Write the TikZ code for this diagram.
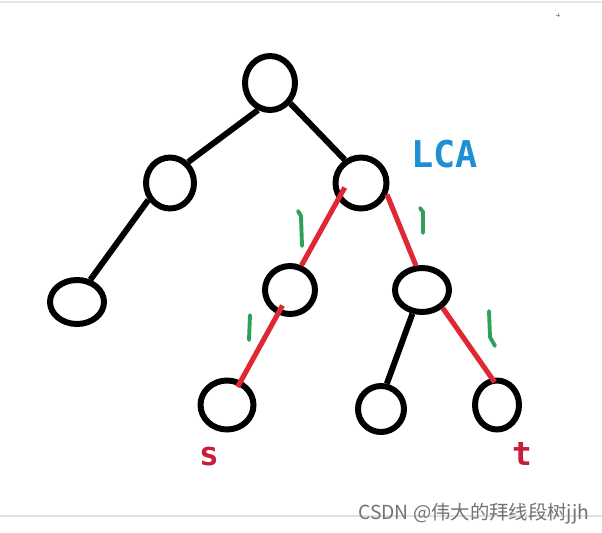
\documentclass[tikz,border=0pt]{standalone}
\usepackage{fontspec}
\usepackage{xcolor}
\usepackage{tikz}
\usetikzlibrary{shapes.geometric}
\newfontfamily\lblfont{DejaVu Sans Mono}
\newfontfamily\cjk{Noto Sans CJK SC}
\definecolor{lcablue}{RGB}{30,144,210}
\definecolor{pathred}{RGB}{222,40,52}
\definecolor{textred}{RGB}{200,30,60}
\definecolor{markgreen}{RGB}{45,160,90}

\begin{document}
\begin{tikzpicture}[x=0.02cm,y=-0.02cm,
    vert/.style={draw,ellipse,line width=3.4pt,inner sep=0pt},
    edge/.style={line width=3.4pt},
    redge/.style={draw=pathred,line width=2.9pt},
    lenmark/.style={draw=markgreen,line width=2.2pt,line cap=round,line join=round},
    lbl/.style={inner sep=0pt,font=\lblfont\bfseries\fontsize{#1}{#1}\selectfont}]
    \fill[white] (0,0) rectangle (602,532);
    \useasboundingbox (0,0) rectangle (602,532);

    \draw[black!10,line width=0.8pt] (0,2) -- (602,2);
    \draw[black!40,line width=0.4pt] (556,15) -- (560,15) (558,13) -- (558,17);

    \node[vert,minimum width=1.00cm,minimum height=1.08cm] (root) at (270,83) {};
    \node[vert,minimum width=0.96cm,minimum height=1.02cm] (a) at (170,183) {};
    \node[vert,minimum width=1.08cm,minimum height=0.88cm] (leaf) at (77,302) {};
    \node[vert,minimum width=1.02cm,minimum height=1.02cm] (lca) at (361,183) {};
    \node[vert,minimum width=1.00cm,minimum height=0.96cm] (b) at (290,290) {};
    \node[vert,minimum width=1.08cm,minimum height=0.88cm] (c) at (422,290) {};
    \node[vert,minimum width=1.06cm,minimum height=0.98cm] (s) at (227,405) {};
    \node[vert,minimum width=0.92cm,minimum height=0.92cm] (m) at (381,409) {};
    \node[vert,minimum width=0.88cm,minimum height=0.98cm] (t) at (497,405) {};

    \draw[edge] (root.246) -- (a.49);
    \draw[edge] (root.315) -- (lca.125);
    \draw[edge] (a.218) -- (leaf.59);
    \draw[edge] (c.248) -- (m.77);

    \draw[redge,shorten <=-0.28cm] (lca.216) -- (b.65);
    \draw[redge] (lca.336) -- (c.104);
    \draw[redge,shorten <=-0.2cm,shorten >=-0.14cm] (b.243) -- (s.60);
    \draw[redge,shorten >=-0.1cm] (c.319) -- (t.101);

    \draw[lenmark] (298,211) -- (301,216) -- (302,246);
    \draw[lenmark] (420,208) -- (423,212) -- (423,233);
    \draw[lenmark] (250,315) -- (249,340);
    \draw[lenmark] (489,311) -- (490,337) -- (495,346);

    \node[lbl=21,text=lcablue,anchor=base west] (lcalbl) at (411,167) {LCA};
    \node[lbl=18.7,text=textred,anchor=base] (slbl) at (209,465) {s};
    \node[lbl=18.7,text=textred,anchor=base] (tlbl) at (522,465) {t};

    \draw[black!12,line width=0.6pt] (0,516) -- (602,516);
    \node[inner sep=0pt,anchor=base west,text=black!55,font=\cjk\fontsize{11}{11}\selectfont] (wm) at (358,519) {CSDN @伟大的拜线段树jjh};
\end{tikzpicture}
\end{document}
